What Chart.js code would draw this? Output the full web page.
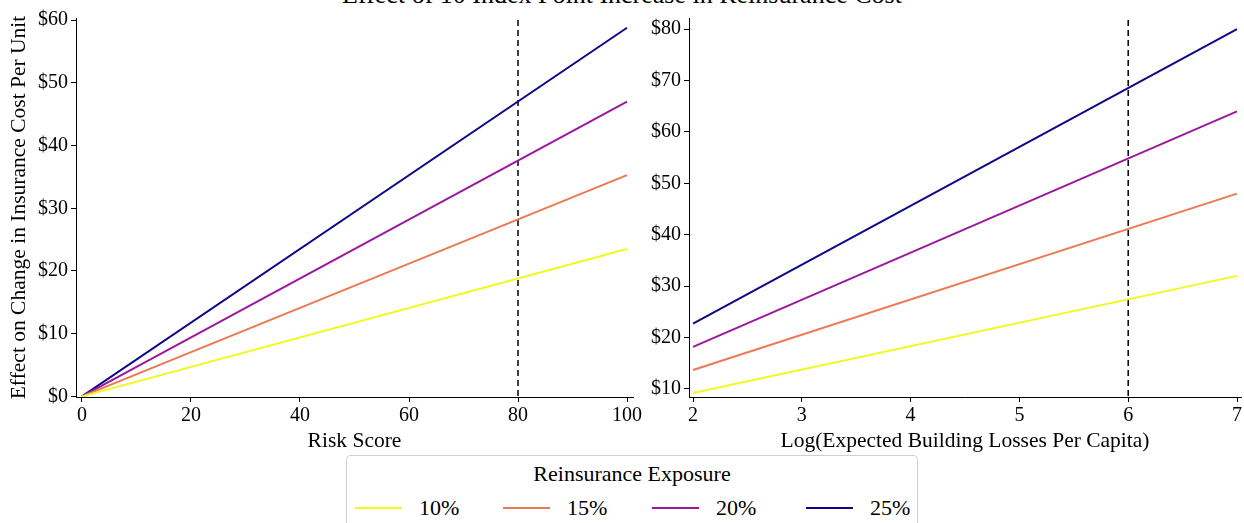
<!DOCTYPE html>
<html>
<head>
<meta charset="utf-8">
<script src="https://cdn.jsdelivr.net/npm/chart.js@4.4.1/dist/chart.umd.min.js"></script>
<style>
  body { margin: 0; width: 1244px; height: 523px; overflow: hidden; background: #fff; position: relative; font-family: "Liberation Serif", serif; color: #000; }
  canvas { position: absolute; top: 0; }
  #left { left: 0; }
  #right { left: 620px; }
  .suptitle { position: absolute; left: 0; width: 1244px; top: -18px; text-align: center; font-size: 26px; line-height: 26px; }
  .legend { position: absolute; left: 346px; top: 455px; width: 572px; height: 90px; border: 1px solid #d0d0d0; border-radius: 4px; background: #fff; box-sizing: border-box; }
  .legend .ttl { text-align: center; font-size: 22px; margin-top: 5px; line-height: 26px; }
  .legend .items { display: flex; margin-left: 8px; margin-top: 8px; }
  .legend .item { display: flex; align-items: center; font-size: 22px; }
  .legend .swatch { width: 47px; height: 2px; margin-right: 17px; }
</style>
</head>
<body>
<div class="suptitle">Effect of 10 Index Point Increase in Reinsurance Cost</div>
<canvas id="left" width="660" height="460"></canvas>
<canvas id="right" width="624" height="460"></canvas>
<div class="legend">
  <div class="ttl">Reinsurance Exposure</div>
  <div class="items" id="legendItems"></div>
</div>
<script>
// categories / series
const exposures = ['10%', '15%', '20%', '25%']
const colors = ['#f0f921', '#ed7953', '#9c179e', '#0d0887']

const riskScore = [0, 100]
const risk10 = [0, 23.5]
const risk15 = [0, 35.3]
const risk20 = [0, 47.0]
const risk25 = [0, 58.8]

const logLoss = [2, 7]
const loss10 = [9.2, 32.0]
const loss15 = [13.7, 48.0]
const loss20 = [18.2, 64.0]
const loss25 = [22.7, 80.0]

const riskTicksX = [0, 20, 40, 60, 80, 100]
const riskTicksY = [0, 10, 20, 30, 40, 50, 60]
const lossTicksX = [2, 3, 4, 5, 6, 7]
const lossTicksY = [10, 20, 30, 40, 50, 60, 70, 80]

const riskCutoff = 80
const lossCutoff = 6

Chart.defaults.font.family = '"Liberation Serif", serif'
Chart.defaults.font.size = 20
Chart.defaults.color = '#000'
const titleFont = { family: '"Liberation Serif", serif', size: 21.5 }

const vline = {
    id: 'vline',
    beforeDatasetsDraw(chart, args, opts) {
        const { ctx, chartArea, scales } = chart
        const x = scales.x.getPixelForValue(opts.value)
        ctx.save()
        ctx.strokeStyle = '#000'
        ctx.lineWidth = 1.5
        ctx.setLineDash([6, 4])
        ctx.beginPath()
        ctx.moveTo(x, chartArea.top + 2)
        ctx.lineTo(x, chartArea.bottom)
        ctx.stroke()
        ctx.restore()
    }
}

function fixedTicks(values) {
    return scale => { scale.ticks = values.map(v => ({ value: v })) }
}

function makeChart(id, xs, series, o) {
    new Chart(document.getElementById(id), {
        type: 'line',
        data: {
            datasets: series.map((ys, i) => ({
                label: exposures[i],
                data: xs.map((x, j) => ({ x: x, y: ys[j] })),
                borderColor: colors[i],
                borderWidth: 2,
                pointRadius: 0,
                fill: false
            }))
        },
        options: {
            responsive: false,
            animation: false,
            layout: { padding: { top: 18, right: o.padRight, left: 0, bottom: 0 } },
            plugins: {
                legend: { display: false },
                tooltip: { enabled: false },
                vline: { value: o.cutoff }
            },
            scales: {
                x: {
                    type: 'linear',
                    min: o.xMin, max: o.xMax,
                    afterBuildTicks: fixedTicks(o.xTicks),
                    afterFit: s => { s.height = 63 },
                    grid: { drawOnChartArea: false, tickLength: 5, color: '#000' },
                    border: { display: true, color: '#000', width: 1 },
                    ticks: { color: '#000', padding: 2, maxRotation: 0, autoSkip: false },
                    title: { display: true, text: o.xTitle, font: titleFont, color: '#000', padding: { top: 2, bottom: 6 } }
                },
                y: {
                    type: 'linear',
                    min: o.yMin, max: o.yMax,
                    afterBuildTicks: fixedTicks(o.yTicks),
                    afterFit: s => { s.width = o.yWidth },
                    grid: { drawOnChartArea: false, tickLength: 5, color: '#000' },
                    border: { display: true, color: '#000', width: 1 },
                    ticks: { color: '#000', padding: 3, autoSkip: false, callback: v => '$' + v },
                    title: { display: !!o.yTitle, text: o.yTitle || '', font: titleFont, color: '#000', padding: { top: 6, bottom: 4 } }
                }
            }
        },
        plugins: [vline]
    })
}

makeChart('left', riskScore, [risk10, risk15, risk20, risk25], {
    xMin: -1.1, xMax: 101.1, yMin: -0.1, yMax: 60.35,
    xTicks: riskTicksX, yTicks: riskTicksY, cutoff: riskCutoff,
    xTitle: 'Risk Score', yTitle: 'Effect on Change in Insurance Cost Per Unit',
    yWidth: 76, padRight: 27
})

makeChart('right', logLoss, [loss10, loss15, loss20, loss25], {
    xMin: 1.963, xMax: 7.037, yMin: 8.44, yMax: 82.15,
    xTicks: lossTicksX, yTicks: lossTicksY, cutoff: lossCutoff,
    xTitle: 'Log(Expected Building Losses Per Capita)',
    yWidth: 69, padRight: 0
})

const itemWidths = [148, 149, 154, 110]
const items = document.getElementById('legendItems')
exposures.forEach((label, i) => {
    const el = document.createElement('div')
    el.className = 'item'
    el.style.width = itemWidths[i] + 'px'
    el.innerHTML = '<span class="swatch" style="background:' + colors[i] + '"></span><span>' + label + '</span>'
    items.appendChild(el)
})
</script>
</body>
</html>
